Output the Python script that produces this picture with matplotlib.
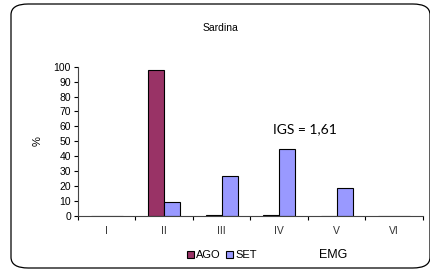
import numpy as np
import matplotlib
matplotlib.use("Agg")
import matplotlib.pyplot as plt
from matplotlib.patches import FancyBboxPatch

categories = ["I", "II", "III", "IV", "V", "VI"]
ago = [0, 98, 1, 0.5, 0, 0]
setv = [0, 9.5, 27, 45, 19, 0]

plt.rcParams['font.family'] = ['Liberation Sans', 'DejaVu Sans']

W, H = 431, 270
fig = plt.figure(figsize=(W / 100, H / 100), dpi=100)

# rounded frame around the chart
frame = FancyBboxPatch((11 / W, 2 / H), 419 / W, 264 / H,
                       boxstyle="round,pad=0,rounding_size=0.04",
                       transform=fig.transFigure, fill=False,
                       edgecolor="black", linewidth=0.9)
fig.patches.append(frame)

ax = fig.add_axes([78 / W, 1 - 216 / H, (423 - 78) / W, (216 - 66.7) / H])

x = np.arange(len(categories))
bw = 0.28
ax.bar(x - bw / 2, ago, bw, color="#993366", edgecolor="black", linewidth=0.8, label="AGO")
ax.bar(x + bw / 2, setv, bw, color="#9999FF", edgecolor="black", linewidth=0.8, label="SET")

ax.set_xlim(-0.5, len(categories) - 0.5)
ax.set_ylim(0, 100)
ax.set_yticks(range(0, 101, 10))
ax.tick_params(axis="y", labelsize=7.5, length=3, width=0.8, pad=2)
ax.set_xticks(np.arange(len(categories) + 1) - 0.5)
ax.set_xticklabels([])
ax.tick_params(axis="x", length=3, width=0.8, direction="out")
for i, c in enumerate(categories):
    ax.text(i, -7, c, ha="center", va="top", fontsize=7.5, color="#333333")

for s in ["top", "right"]:
    ax.spines[s].set_visible(False)
ax.spines["left"].set_color("#444444")
ax.spines["bottom"].set_color("#444444")

ax.set_ylabel("%", fontsize=8, labelpad=8)

fig.text(220 / W, 1 - 28 / H, "Sardina", ha="center", va="center", fontsize=7.5)
fig.text(305 / W, 1 - 129 / H, "IGS = 1,61", ha="center", va="center",
         fontsize=10, family=["Lato", "DejaVu Sans"])
fig.text(333 / W, 1 - 255 / H, "EMG", ha="center", va="center", fontsize=9)

fig.legend(loc="center", bbox_to_anchor=(222 / W, 1 - 255 / H), ncol=2, frameon=False,
           fontsize=8, handlelength=0.6, handleheight=0.6, handletextpad=0.2,
           columnspacing=0.5, borderpad=0)

fig.savefig("out.png", dpi=100)
